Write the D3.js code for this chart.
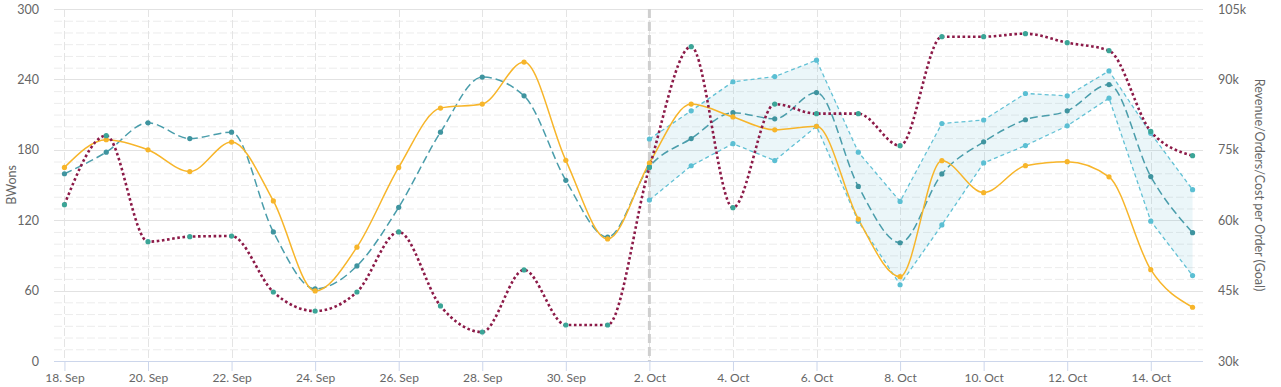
<!DOCTYPE html>
<html>
<head>
<meta charset="utf-8">
<script src="https://cdn.jsdelivr.net/npm/d3@7"></script>
<style>
  body { margin: 0; background: #fff; }
  svg text { font-family: Lato, "DejaVu Sans", sans-serif; }
</style>
</head>
<body>
<div id="chart"></div>
<script>
// days from 18 Sep to 15 Oct
var startDay = Date.UTC(2023, 8, 18);
var dayCount = 28;
var forecastStart = 14; // index of 2 Oct

// left axis (BWons)
var actual = [165, 188.6, 180, 161.4, 186.6, 136.4, 59.7, 97, 165, 215.6, 219, 254.8, 171, 104,
    168.7, 219, 208, 197, 200, 121, 71.9, 170.7, 143.5, 166.5, 169.9, 157, 77.8, 45.8];
var orders = [133.2, 192, 101.7, 106, 106.5, 58.8, 42.6, 58.8, 110, 46.9, 24.7, 77.6, 30.7, 30.7,
    165, 267.9, 130.7, 219, 210.8, 210.8, 183.5, 276.4, 276.4, 279, 271.3, 264.5, 195.7, 175];

// right axis (thousands)
var revenue = [69.9, 74.5, 80.75, 77.4, 78.75, 57.5, 45.35, 50.25, 62.75, 78.75, 90.5, 86.5, 68.5, 56.4,
    71.4, 77.4, 82.9, 81.6, 87.2, 67.2, 55.2, 69.85, 76.7, 81.4, 83.3, 88.9, 69.3, 57.35];
var revenueHigh = [77.3, 83.3, 89.5, 90.6, 94.1, 74.5, 64, 80.6, 81.35, 87, 86.5, 91.8, 78.5, 66.5];
var revenueLow = [64.3, 71.6, 76.3, 72.7, 80, 59.75, 46.25, 59, 72.2, 75.9, 80.1, 86, 59.8, 48.2];

var leftTicks = [0, 60, 120, 180, 240, 300];
var rightTicks = [30, 45, 60, 75, 90, 105];

var svgWidth = 1281;
var svgHeight = 387;
var plot = { left: 54, right: 1203, top: 9, bottom: 361 };

var svg = d3.select("#chart")
    .append("svg")
    .attr("width", svgWidth)
    .attr("height", svgHeight);

var DAY = 86400000;
var dates = d3.range(dayCount).map(i => new Date(startDay + i * DAY));
var fDates = dates.slice(forecastStart);

var x = d3.scaleUtc()
    .domain([new Date(startDay - 0.25 * DAY), new Date(startDay + 27.25 * DAY)])
    .range([plot.left, plot.right]);
var yLeft = d3.scaleLinear().domain([0, 300]).range([plot.bottom, plot.top]);
var yRight = d3.scaleLinear().domain([30, 105]).range([plot.bottom, plot.top]);

var xTicks = d3.range(0, dayCount, 2).map(i => dates[i]);

// minor grid
var grid = svg.append("g");
grid.selectAll(".minor")
    .data(d3.range(10, 300, 10).filter(v => v % 60 !== 0))
    .enter()
    .append("line")
    .attr("x1", plot.left).attr("x2", plot.right)
    .attr("y1", d => yLeft(d) + 0.5).attr("y2", d => yLeft(d) + 0.5)
    .attr("stroke", "#ececec")
    .attr("stroke-dasharray", "8,3");

grid.selectAll(".vgrid")
    .data(xTicks)
    .enter()
    .append("line")
    .attr("x1", d => Math.round(x(d)) + 0.5).attr("x2", d => Math.round(x(d)) + 0.5)
    .attr("y1", plot.top).attr("y2", plot.bottom)
    .attr("stroke", "#e4e4e4")
    .attr("stroke-dasharray", "8,3");

grid.selectAll(".major")
    .data(leftTicks.filter(v => v > 0))
    .enter()
    .append("line")
    .attr("x1", plot.left).attr("x2", plot.right)
    .attr("y1", d => Math.round(yLeft(d)) + 0.5).attr("y2", d => Math.round(yLeft(d)) + 0.5)
    .attr("stroke", "#e2e2e2");

// x axis
var xAxis = svg.append("g")
    .attr("transform", `translate(0, ${plot.bottom})`)
    .call(d3.axisBottom(x).tickValues(xTicks).tickFormat(d3.utcFormat("%-d. %b")).tickSize(10).tickSizeOuter(0));
xAxis.select(".domain").attr("stroke", "#ccd6eb").attr("d", `M${plot.left},0.5H${plot.right}`);
xAxis.selectAll(".tick line").attr("stroke", "#ccd6eb");
xAxis.selectAll(".tick text")
    .attr("y", 12)
    .attr("fill", "#666")
    .attr("font-size", "12px");

// y axes labels
var leftAxis = svg.append("g")
    .attr("transform", `translate(${plot.left}, 0)`)
    .call(d3.axisLeft(yLeft).tickValues(leftTicks).tickSize(0).tickPadding(15));
leftAxis.select(".domain").remove();
leftAxis.selectAll("text").attr("fill", "#666").attr("font-size", "12.5px");

var rightAxis = svg.append("g")
    .attr("transform", `translate(${plot.right}, 0)`)
    .call(d3.axisRight(yRight).tickValues(rightTicks).tickFormat(d => d + "k").tickSize(0).tickPadding(15));
rightAxis.select(".domain").remove();
rightAxis.selectAll("text").attr("fill", "#666").attr("font-size", "12.5px");

svg.append("text")
    .attr("transform", `translate(12, ${(plot.top + plot.bottom) / 2}) rotate(-90)`)
    .attr("text-anchor", "middle")
    .attr("dy", "0.35em")
    .attr("fill", "#666")
    .attr("font-size", "12.5px")
    .text("BWons");

svg.append("text")
    .attr("transform", `translate(1259, ${(plot.top + plot.bottom) / 2}) rotate(90)`)
    .attr("text-anchor", "middle")
    .attr("dy", "0.35em")
    .attr("fill", "#666")
    .attr("font-size", "12.5px")
    .text("Revenue/Orders/Cost per Order (Goal)");

// forecast band
var bandArea = d3.area()
    .x((d, i) => x(fDates[i]))
    .y0((d, i) => yRight(revenueLow[i]))
    .y1(d => yRight(d));
svg.append("path")
    .datum(revenueHigh)
    .attr("d", bandArea)
    .attr("fill", "rgba(100,185,210,0.13)");

// 2 Oct plot line
svg.append("line")
    .attr("x1", x(dates[forecastStart])).attr("x2", x(dates[forecastStart]))
    .attr("y1", plot.top).attr("y2", plot.bottom)
    .attr("stroke", "#cfcfcf")
    .attr("stroke-width", 3)
    .attr("stroke-dasharray", "9,4");

function drawSeries(values, xs, yScale, opts) {
    var line = d3.line()
        .x((d, i) => x(xs[i]))
        .y(d => yScale(d))
        .curve(opts.curve);
    svg.append("path")
        .datum(values)
        .attr("d", line)
        .attr("fill", "none")
        .attr("stroke", opts.color)
        .attr("stroke-width", opts.width)
        .attr("stroke-dasharray", opts.dash);
    return values.map((d, i) => ({ cx: x(xs[i]), cy: yScale(d), fill: opts.marker }));
}

var markers = [];
markers = markers.concat(drawSeries(revenueHigh, fDates, yRight,
    { curve: d3.curveLinear, color: "#62c1d5", width: 1.3, dash: "4,3", marker: "#5bbfd3" }));
markers = markers.concat(drawSeries(revenueLow, fDates, yRight,
    { curve: d3.curveLinear, color: "#62c1d5", width: 1.3, dash: "4,3", marker: "#5bbfd3" }));
markers = markers.concat(drawSeries(revenue, dates, yRight,
    { curve: d3.curveMonotoneX, color: "#4a9dab", width: 1.5, dash: "8,4", marker: "#3f949f" }));
markers = markers.concat(drawSeries(actual, dates, yLeft,
    { curve: d3.curveMonotoneX, color: "#f7b52a", width: 1.5, dash: null, marker: "#f7b52a" }));
markers = markers.concat(drawSeries(orders, dates, yLeft,
    { curve: d3.curveMonotoneX, color: "#8c1a48", width: 2.6, dash: "2.6,2.6", marker: "#3ba597" }));

svg.append("g")
    .selectAll("circle")
    .data(markers)
    .enter()
    .append("circle")
    .attr("cx", d => d.cx)
    .attr("cy", d => d.cy)
    .attr("r", 2.6)
    .attr("fill", d => d.fill);
</script>
</body>
</html>
